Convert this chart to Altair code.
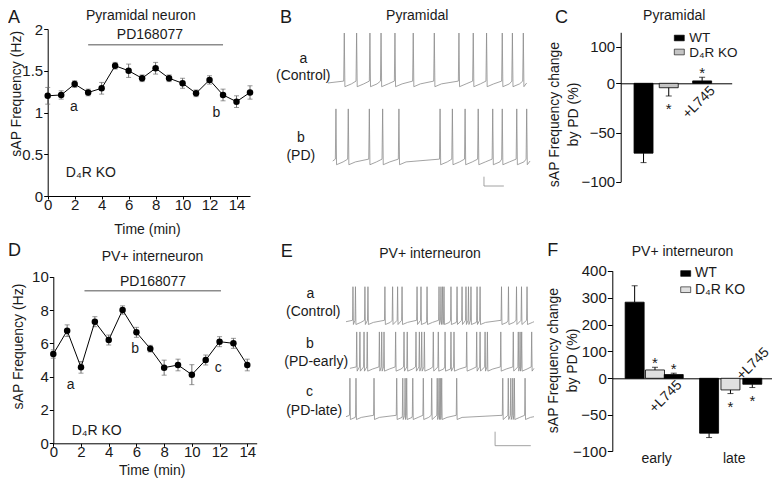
import altair as alt
import pandas as pd

FONT = "Liberation Sans, Arial, DejaVu Sans, sans-serif"
INK = "#1a1a1a"
TRACE_COL = "#8c8c8c"
ERR_COL = "#6e6e6e"

# ---------------- data ----------------
# A: pyramidal neuron, D4R KO (sAP frequency, Hz)
A_time = list(range(16))
A_freq = [1.20, 1.21, 1.34, 1.24, 1.29, 1.56, 1.50, 1.41, 1.53, 1.41, 1.35, 1.23, 1.39, 1.21, 1.13, 1.24]
A_sem = [0.10, 0.05, 0.04, 0.04, 0.07, 0.04, 0.08, 0.04, 0.07, 0.04, 0.06, 0.04, 0.05, 0.07, 0.07, 0.08]
A_drug = [3.0, 13.0, 1.81]          # PD168077 from, to (min), drawn at level (Hz)
A_note_text = ["a", "b", "PD168077", "D₄R KO"]
A_note_t = [1.95, 12.5, 7.58, 3.2]
A_note_f = [1.06, 1.0, 1.93, 0.27]

# D: PV+ interneuron, D4R KO
D_time = list(range(15))
D_freq = [5.36, 6.76, 4.56, 7.30, 6.20, 8.00, 6.66, 5.68, 4.54, 4.70, 4.12, 5.00, 6.10, 6.00, 4.70]
D_sem = [0.25, 0.35, 0.35, 0.30, 0.30, 0.25, 0.30, 0.20, 0.45, 0.35, 0.60, 0.30, 0.30, 0.30, 0.35]
D_drug = [2.25, 12.1, 9.16]
D_note_text = ["a", "b", "c", "PD168077", "D₄R KO"]
D_note_t = [1.25, 5.9, 11.9, 7.2, 3.13]
D_note_f = [3.5, 5.64, 4.5, 9.7, 0.76]

# C: pyramidal, % change by PD
C_group = ["WT", "D₄R KO", "+L745"]
C_change = [-71.0, -4.5, 6.5]
C_err = [9.6, 8.4, 10.0]

# F: PV+ interneuron, % change by PD
F_phase = ["early", "early", "early", "late", "late", "late"]
F_group = ["WT", "D₄R KO", "+L745", "WT", "D₄R KO", "+L745"]
F_change = [283.0, 31.0, 14.0, -75.5, -16.0, -8.2]
F_err = [61.0, 10.0, 5.0, 6.0, 5.0, 4.5]

# B: example traces, spike times (s)
B_a_spikes = [0.82, 1.44, 2.11, 2.67, 3.37, 4.29, 5.35, 6.59, 7.31, 7.98, 8.77, 9.28, 9.83]
B_b_spikes = [0.40, 1.02, 2.08, 2.75, 3.57, 5.64, 6.26, 6.90, 7.56, 8.29, 8.77, 9.50, 10.00]
B_span = {"a": [0.0, 10.0], "b": [0.24, 10.17]}
B_base = {"a": 123.7, "b": 39.8}      # mV (display offset)
B_amp = {"a": 53.7, "b": 56.0}
B_scalebar = [7.85, 12.9, 1.0, 10.0]  # t, v, 1 s, 10 mV

# E: example traces, spike times (s)
E_a_spikes = [0.39, 0.53, 1.06, 1.23, 2.18, 2.61, 2.89, 3.14, 3.98, 4.20, 4.54, 5.21, 5.32, 5.41,
              5.49, 5.88, 6.22, 6.50, 6.72, 6.86, 7.00, 7.34, 7.51, 8.71, 9.10, 9.55, 9.83, 10.14]
E_b_spikes = [0.60, 0.78, 1.01, 1.19, 1.87, 2.00, 2.13, 2.78, 3.25, 3.43, 3.92, 4.11, 4.24, 4.39,
              4.89, 5.17, 5.55, 5.88, 6.05, 6.76, 7.32, 7.51, 7.79, 7.92, 8.67, 9.37, 9.65, 9.75,
              9.84, 10.40]
E_c_spikes = [0.22, 0.56, 1.57, 2.84, 3.18, 3.31, 3.40, 3.74, 4.33, 4.80, 5.11, 5.21, 5.28, 5.36,
              6.20, 8.78, 9.09, 9.23, 9.34, 9.43, 10.03]
E_span = {"a": [0.0, 10.53], "b": [0.22, 10.53], "c": [0.0, 10.53]}
E_base = {"a": 194.7, "b": 128.1, "c": 59.0}
E_amp = {"a": 50.0, "b": 52.0, "c": 55.0}
E_scalebar = [8.35, 17.6, 2.0, 20.0]  # t, v, 2 s, 20 mV

# ---------------- layout (pixels inside the 764x470 frame) ----------------
W, H = 764, 470


def lin(domain, rng):
    return alt.Scale(domain=domain, range=rng, nice=False, zero=False)


def qx(field, scale, axis):
    return alt.X(field, type="quantitative", scale=scale, axis=axis)


def qy(field, scale, axis):
    return alt.Y(field, type="quantitative", scale=scale, axis=axis)


def time_panel(times, freq, sem, drug, ntext, nt, nf, xs, ys, ax, ay):
    df = pd.DataFrame({"t": times, "f": freq, "sem": sem})
    df["lo"] = df["f"] - df["sem"]
    df["hi"] = df["f"] + df["sem"]
    base = alt.Chart(df)
    err = base.mark_rule(color=ERR_COL, strokeWidth=1).encode(
        x=qx("t", xs, ax), y=qy("lo", ys, ay), y2="hi")
    cap_lo = base.mark_tick(orient="horizontal", size=5, thickness=1, color=ERR_COL).encode(
        x=qx("t", xs, ax), y=qy("lo", ys, ay))
    cap_hi = base.mark_tick(orient="horizontal", size=5, thickness=1, color=ERR_COL).encode(
        x=qx("t", xs, ax), y=qy("hi", ys, ay))
    line = base.mark_line(color="black", strokeWidth=1).encode(
        x=qx("t", xs, ax), y=qy("f", ys, ay))
    pts = base.mark_circle(size=42, color="black", opacity=1).encode(
        x=qx("t", xs, ax), y=qy("f", ys, ay))
    ddf = pd.DataFrame({"t0": [drug[0]], "t1": [drug[1]], "lvl": [drug[2]]})
    dbar = alt.Chart(ddf).mark_rule(color="#8c8c8c", strokeWidth=1.5).encode(
        x=qx("t0", xs, ax), x2="t1", y=qy("lvl", ys, ay))
    ndf = pd.DataFrame({"label": ntext, "t": nt, "f": nf})
    notes = alt.Chart(ndf).mark_text(font=FONT, fontSize=14, color=INK, align="center",
                                     baseline="middle").encode(
        x=qx("t", xs, ax), y=qy("f", ys, ay), text="label:N")
    return alt.layer(err, cap_lo, cap_hi, line, pts, dbar, notes)


def bar_panel(df, xs, ys, ax, ay, cap=6):
    base = alt.Chart(df)
    bars = base.mark_bar(size=19, stroke="black", strokeWidth=0.8).encode(
        x=qx("pos", xs, ax), y=qy("v", ys, ay), y2=alt.datum(0),
        color=alt.Color("col:N", scale=None))
    err = base.mark_rule(color="black", strokeWidth=1).encode(
        x=qx("pos", xs, ax), y=qy("v", ys, ay), y2="tip")
    caps = base.mark_tick(orient="horizontal", size=cap, thickness=1, color="black").encode(
        x=qx("pos", xs, ax), y=qy("tip", ys, ay))
    st_up = base.transform_filter("datum.star && datum.v >= 0").mark_text(
        text="*", font=FONT, fontSize=15, color=INK, baseline="middle", dy=-4).encode(
        x=qx("pos", xs, ax), y=qy("tip", ys, ay))
    st_dn = base.transform_filter("datum.star && datum.v < 0").mark_text(
        text="*", font=FONT, fontSize=15, color=INK, baseline="middle", dy=13).encode(
        x=qx("pos", xs, ax), y=qy("tip", ys, ay))
    return alt.layer(bars, err, caps, st_up, st_dn)


def trace_rows(name, span, base, amp, spikes, w):
    rows = [(span[0], base)]
    for k, s in enumerate(spikes):
        nxt = spikes[k + 1] if k + 1 < len(spikes) else span[1]
        rows += [(s - w, base + 2.0), (s, base + amp), (s + w, base - 4.0)]
        if s + 12 * w < nxt - w:
            rows.append((s + 12 * w, base - 1.0))
    rows.append((span[1], base))
    return pd.DataFrame({"trace": name, "i": range(len(rows)),
                         "t": [r[0] for r in rows], "v": [r[1] for r in rows]})


def scalebar_rows(sb):
    t, v, dt, dv = sb
    return pd.DataFrame({"trace": "bar", "i": [0, 1, 2],
                         "t": [t, t, t + dt], "v": [v + dv, v, v]})


def trace_panel(df, xs, ys):
    return alt.Chart(df).mark_line(color=TRACE_COL, strokeWidth=0.8).encode(
        x=alt.X("t:Q", scale=xs, axis=None), y=alt.Y("v:Q", scale=ys, axis=None),
        detail="trace:N", order="i:Q")


axis_common = dict(labelFlush=False, labelOverlap=False)

# ---- panel A ----
xA = lin([0, 15], [39.7, 242])
yA = lin([0, 2], [188, 21])
axAx = alt.Axis(orient="bottom", offset=188 - H, values=list(range(0, 15, 2)), title="Time (min)",
                titleX=139, titleY=33, titleAlign="center", titleBaseline="middle", **axis_common)
axAy = alt.Axis(orient="left", offset=-39.7, values=[0, 0.5, 1, 1.5, 2], format="~g",
                title="sAP Frequency (Hz)", titleX=8 - 39.7, titleY=85.3, titleAngle=270,
                titleAlign="center", titleBaseline="middle", **axis_common)
panelA = time_panel(A_time, A_freq, A_sem, A_drug, A_note_text, A_note_t, A_note_f, xA, yA, axAx, axAy)

# ---- panel D ----
xD = lin([0, 14.68], [45.3, 248.7])
yD = lin([0, 10], [435.3, 268.7])
axDx = alt.Axis(orient="bottom", offset=435.3 - H, values=list(range(0, 15, 2)), title="Time (min)",
                titleX=143.7, titleY=462 - 435.3, titleAlign="center", titleBaseline="middle",
                **axis_common)
axDy = alt.Axis(orient="left", offset=-45.3, values=[0, 2, 4, 6, 8, 10],
                title="sAP Frequency (Hz)", titleX=10.7 - 45.3, titleY=338, titleAngle=270,
                titleAlign="center", titleBaseline="middle", **axis_common)
panelD = time_panel(D_time, D_freq, D_sem, D_drug, D_note_text, D_note_t, D_note_f, xD, yD, axDx, axDy)

# ---- panel C ----
FILL_C = {"WT": "black", "D₄R KO": "#c4c4c4", "+L745": "black"}
C_pos = [19.6, 47.3, 84.0]  # bar centres, px right of the y axis
dfC = pd.DataFrame({"g": C_group, "v": C_change, "e": C_err, "pos": C_pos})
dfC["tip"] = [v + (e if v >= 0 else -e) for v, e in zip(dfC["v"], dfC["e"])]
dfC["col"] = [FILL_C[g] for g in dfC["g"]]
dfC["star"] = [g != "WT" for g in dfC["g"]]
xC = lin([0, 111], [612.7, 723.7])
yC = lin([-100, 0, 139], [173.7, 75.3, 24.3])
axCx = alt.Axis(orient="bottom", offset=75.3 - H, ticks=False, labels=False, title="")
axCy = alt.Axis(orient="left", offset=-612.7, values=[-100, -50, 0, 100], tickSize=5,
                title=["sAP Frequency change", "by PD (%)"], titleX=546 - 612.7, titleY=106,
                titleAngle=270, titleAlign="center", titleBaseline="middle", titleLineHeight=19,
                **axis_common)
panelC = bar_panel(dfC, xC, yC, axCx, axCy)

# ---- panel F ----
FILL_F = {"WT": "black", "D₄R KO": "#e0e0e0", "+L745": "black"}
F_pos = [18.5, 40.2, 60.2, 97.9, 120.7, 144.0]
dfF = pd.DataFrame({"phase": F_phase, "g": F_group, "v": F_change, "e": F_err, "pos": F_pos})
dfF["tip"] = [v + (e if v >= 0 else -e) for v, e in zip(dfF["v"], dfF["e"])]
dfF["col"] = [FILL_F[g] for g in dfF["g"]]
dfF["star"] = [g != "WT" for g in dfF["g"]]
xF = lin([0, 160], [604.3, 764.3])
yF = lin([-100, 0, 400], [443, 370.3, 262.7])
axFx = alt.Axis(orient="bottom", offset=370.3 - H, ticks=False, labels=False, title="")
axFy = alt.Axis(orient="left", offset=-604.3, values=[-100, -50, 0, 100, 200, 300, 400], tickSize=5,
                title=["sAP Frequency change", "by PD (%)"], titleX=545 - 604.3, titleY=352,
                titleAngle=270, titleAlign="center", titleBaseline="middle", titleLineHeight=19,
                **axis_common)
panelF = bar_panel(dfF, xF, yF, axFx, axFy)

# ---- panel B traces ----
dfB = pd.concat([
    trace_rows("a", B_span["a"], B_base["a"], B_amp["a"], B_a_spikes, 0.03),
    trace_rows("b", B_span["b"], B_base["b"], B_amp["b"], B_b_spikes, 0.03),
    scalebar_rows(B_scalebar)], ignore_index=True)
panelB = trace_panel(dfB, lin([0, 10], [320, 518.7]), lin([0, 200], [190, 4]))

# ---- panel E traces ----
dfE = pd.concat([
    trace_rows("a", E_span["a"], E_base["a"], E_amp["a"], E_a_spikes, 0.025),
    trace_rows("b", E_span["b"], E_base["b"], E_amp["b"], E_b_spikes, 0.025),
    trace_rows("c", E_span["c"], E_base["c"], E_amp["c"], E_c_spikes, 0.025),
    scalebar_rows(E_scalebar)], ignore_index=True)
panelE = trace_panel(dfE, lin([0, 10.53], [338, 526]), lin([0, 250], [450, 275]))

# ---- text annotations (pixel positions) ----
PX = alt.X("x:Q", scale=None, axis=None)
PY = alt.Y("y:Q", scale=None, axis=None)

centre_txt = pd.DataFrame([
    ("Pyramidal neuron", 132.8, 7.5), ("Pyramidal", 409.2, 7.5), ("Pyramidal", 666.2, 7.5),
    ("PV+ interneuron", 144.5, 248.5), ("PV+ interneuron", 422.0, 246.3), ("PV+ interneuron", 674.5, 244.3),
    ("a", 295.5, 50.6), ("(Control)", 295.3, 68.0), ("b", 293.0, 130.0), ("(PD)", 292.8, 147.8),
    ("a", 302.3, 286.4), ("(Control)", 305.3, 303.7), ("b", 301.8, 335.8), ("(PD-early)", 308.2, 353.7),
    ("c", 301.5, 384.0), ("(PD-late)", 306.2, 402.8),
    ("early", 648.7, 450.8), ("late", 726.2, 450.8),
], columns=["text", "x", "y"])
letters = pd.DataFrame([("A", 0, 15), ("B", 272, 15), ("C", 547, 15),
                        ("D", 0, 248), ("E", 272.7, 248.5), ("F", 539.3, 248)],
                       columns=["text", "x", "y"])
legend_sym = pd.DataFrame([(671.3, 30.0, "black"), (671.3, 44.0, "#c4c4c4"),
                           (677.7, 265.5, "black"), (677.7, 281.7, "#e0e0e0")],
                          columns=["x", "y", "col"])
legend_txt = pd.DataFrame([("WT", 681.3, 29.5, 13.5), ("D₄R KO", 681.3, 44.5, 13.5),
                           ("WT", 687.0, 265.0, 14), ("D₄R KO", 687.0, 282.2, 14)],
                          columns=["text", "x", "y", "fs"])
rot_txt = pd.DataFrame([("+L745", 691.0, 94.5), ("+L745", 657.8, 388.7), ("+L745", 745.0, 356.0)],
                       columns=["text", "x", "y"])

ann_centre = alt.Chart(centre_txt).mark_text(font=FONT, fontSize=14, color=INK, align="center",
                                             baseline="middle").encode(x=PX, y=PY, text="text:N")
ann_letters = alt.Chart(letters).mark_text(font=FONT, fontSize=18, color=INK, align="left",
                                           baseline="alphabetic").encode(x=PX, y=PY, text="text:N")
RECT = "M-1,-0.57L1,-0.57L1,0.57L-1,0.57Z"
ann_sym = alt.Chart(legend_sym).mark_point(shape=RECT, size=100, filled=True, opacity=1,
                                           stroke="black", strokeWidth=0.6).encode(
    x=PX, y=PY, fill=alt.Fill("col:N", scale=None))
ann_leg = alt.Chart(legend_txt).mark_text(font=FONT, color=INK, align="left",
                                          baseline="middle").encode(
    x=PX, y=PY, text="text:N", size=alt.Size("fs:Q", scale=None))
ann_rot = alt.Chart(rot_txt).mark_text(font=FONT, fontSize=14, color=INK, align="center",
                                       baseline="middle", angle=315).encode(x=PX, y=PY, text="text:N")

chart = alt.layer(
    panelA, panelB, panelC, panelD, panelE, panelF,
    ann_centre, ann_letters, ann_sym, ann_leg, ann_rot,
).resolve_scale(
    x="independent", y="independent"
).properties(
    width=W, height=H, padding=0, autosize=alt.AutoSizeParams(type="none"),
).configure_view(
    stroke=None
).configure_axis(
    labelFont=FONT, titleFont=FONT, labelFontSize=15, titleFontSize=14, titleFontWeight="normal",
    labelColor=INK, titleColor=INK, domainColor="black", tickColor="black",
    grid=False, domainWidth=1, tickWidth=1,
).configure_axisX(
    tickSize=3, labelPadding=-2,
).configure_axisY(
    tickSize=4, labelPadding=1,
)

chart.save("out.html", embed_options={"renderer": "svg", "actions": False})
